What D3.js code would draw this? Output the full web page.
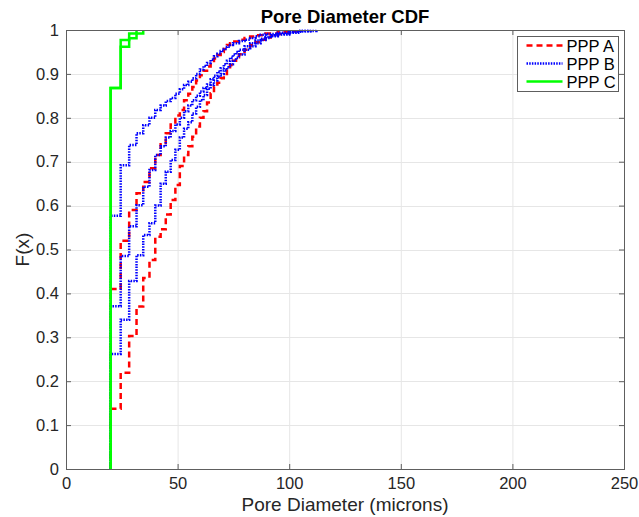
<!DOCTYPE html>
<html>
<head>
<meta charset="utf-8">
<script src="https://cdn.jsdelivr.net/npm/d3@7"></script>
<style>
  html, body { margin: 0; padding: 0; background: #fff; }
  svg { display: block; font-family: "Liberation Sans", Helvetica, Arial, sans-serif; }
</style>
</head>
<body>
<svg id="chart" width="639" height="517"></svg>
<script>
// ECDF steps: [diameter (microns), F(x)]
var pppA1 = [[20,0],[20,.41],[24.5,.52],[28.3,.59],[31.6,.628],[34.6,.654],[37.4,.685],[40,.715],[42.4,.74],[44.7,.765],[46.9,.785],[49,.805],[51,.818],[52.9,.84],[54.8,.855],[56.6,.87],[58.3,.885],[60,.897],[61.6,.907],[63.2,.917],[64.8,.925],[66.3,.935],[67.8,.943],[69.3,.95],[70.7,.957],[72.1,.966],[73.5,.97],[74.8,.974],[77.5,.978],[80,.982],[82.5,.985],[84.9,.988],[89.4,.992],[94.9,.995],[100,1]];
var pppA2 = [[20,0],[20,.137],[24.5,.219],[28.3,.303],[31.6,.37],[34.6,.435],[37.4,.476],[40,.529],[42.4,.546],[44.7,.58],[46.9,.613],[49,.647],[51,.69],[52.9,.715],[54.8,.735],[56.6,.757],[58.3,.78],[60,.8],[61.6,.815],[63.2,.835],[64.8,.856],[66.3,.87],[67.8,.88],[69.3,.89],[70.7,.9],[72.1,.91],[73.5,.92],[74.8,.93],[76.2,.938],[77.5,.945],[80,.955],[82.5,.965],[84.9,.972],[87.2,.978],[89.4,.983],[91.7,.987],[94.9,.991],[98,.995],[100,.997],[104.9,1]];

var pppB1 = [[20,0],[20,.577],[24.5,.692],[28.3,.738],[31.6,.765],[34.6,.783],[37.4,.8],[40,.818],[42.4,.828],[44.7,.838],[46.9,.845],[49,.855],[51,.865],[52.9,.875],[54.8,.882],[56.6,.89],[58.3,.9],[60,.91],[61.6,.918],[63.2,.925],[64.8,.932],[66.3,.94],[67.8,.946],[69.3,.952],[70.7,.957],[72.1,.962],[73.5,.966],[74.8,.97],[77.5,.975],[80,.978],[82.5,.982],[84.9,.986],[87.2,.989],[89.4,.991],[94.9,.994],[100,.996],[104.9,.998],[112.2,1]];
var pppB2 = [[20,0],[20,.371],[24.5,.485],[28.3,.553],[31.6,.601],[34.6,.643],[37.4,.681],[40,.715],[42.4,.735],[44.7,.755],[46.9,.77],[49,.785],[51,.8],[52.9,.815],[54.8,.828],[56.6,.84],[58.3,.85],[60,.86],[61.6,.868],[63.2,.876],[64.8,.888],[66.3,.896],[67.8,.905],[69.3,.913],[70.7,.922],[72.1,.93],[73.5,.937],[74.8,.944],[76.2,.95],[77.5,.955],[80,.963],[82.5,.97],[84.9,.976],[87.2,.98],[89.4,.984],[91.7,.988],[94.9,.991],[100,.995],[104.9,.998],[109.5,1]];
var pppB3 = [[20,0],[20,.262],[24.5,.34],[28.3,.428],[31.6,.487],[34.6,.533],[37.4,.56],[40,.6],[42.4,.65],[44.7,.677],[46.9,.704],[49,.727],[51,.755],[52.9,.775],[54.8,.79],[56.6,.81],[58.3,.825],[60,.84],[61.6,.852],[63.2,.866],[64.8,.875],[66.3,.885],[67.8,.893],[69.3,.9],[70.7,.908],[72.1,.915],[73.5,.922],[74.8,.93],[76.2,.937],[77.5,.944],[80,.955],[82.5,.963],[84.9,.97],[87.2,.977],[89.4,.982],[91.7,.986],[94.9,.99],[100,.994],[104.9,.997],[109.5,1]];

var pppC1 = [[20,0],[20,.868],[24.5,.977],[28.3,.992],[31.6,1]];
var pppC2 = [[20,0],[20,.868],[24.5,.962],[28.3,.981],[31.6,.992],[34.6,1]];

var seriesNames = ["PPP A", "PPP B", "PPP C"];
var xTicks = [0, 50, 100, 150, 200, 250];
var yTicks = [0, 0.1, 0.2, 0.3, 0.4, 0.5, 0.6, 0.7, 0.8, 0.9, 1];

var styles = {
  "PPP A": { color: "#ff0000", width: 2.5, dash: "6,4" },
  "PPP B": { color: "#0000ff", width: 2.5, dash: "1.5,1.2" },
  "PPP C": { color: "#00ff00", width: 2.5, dash: null }
};

var curves = [
  { name: "PPP A", data: pppA1 },
  { name: "PPP A", data: pppA2 },
  { name: "PPP B", data: pppB1 },
  { name: "PPP B", data: pppB2 },
  { name: "PPP B", data: pppB3 },
  { name: "PPP C", data: pppC1 },
  { name: "PPP C", data: pppC2 }
];

var svg = d3.select("#chart");
var margin = { top: 30, right: 15, bottom: 48, left: 66 };
var width = 639 - margin.left - margin.right;
var height = 517 - margin.top - margin.bottom;
var axisColor = "#5e5e5e";
var tickFont = "16.5px";

var g = svg.append("g")
  .attr("transform", "translate(" + margin.left + "," + margin.top + ")");

var x = d3.scaleLinear().domain([0, 250]).range([0, width]);
var y = d3.scaleLinear().domain([0, 1]).range([height, 0]);

// grid
g.append("g")
  .selectAll("line.gx")
  .data(xTicks.slice(1, -1))
  .enter().append("line")
  .attr("x1", function(d) { return x(d) + 0.5; })
  .attr("x2", function(d) { return x(d) + 0.5; })
  .attr("y1", 0)
  .attr("y2", height)
  .attr("stroke", "#e6e6e6");

g.append("g")
  .selectAll("line.gy")
  .data(yTicks.slice(1, -1))
  .enter().append("line")
  .attr("x1", 0)
  .attr("x2", width)
  .attr("y1", function(d) { return Math.round(y(d)) + 0.5; })
  .attr("y2", function(d) { return Math.round(y(d)) + 0.5; })
  .attr("stroke", "#e6e6e6");

// axes (ticks inward on all four sides)
function styleAxis(sel) {
  sel.select(".domain").remove();
  sel.selectAll(".tick line").attr("stroke", axisColor);
  sel.selectAll(".tick text")
    .attr("fill", "#262626")
    .style("font-size", tickFont)
    .style("font-family", "'Liberation Sans', Helvetica, Arial, sans-serif");
}

g.append("g")
  .attr("transform", "translate(0," + height + ")")
  .call(d3.axisBottom(x).tickValues(xTicks).tickSize(-5).tickPadding(8).tickFormat(d3.format("d")))
  .call(styleAxis);

g.append("g")
  .call(d3.axisTop(x).tickValues(xTicks).tickSize(-5).tickFormat(""))
  .call(styleAxis);

g.append("g")
  .call(d3.axisLeft(y).tickValues(yTicks).tickSize(-5).tickPadding(7).tickFormat(function(d) { return d3.format("")(+d.toFixed(1)); }))
  .call(styleAxis);

g.append("g")
  .attr("transform", "translate(" + width + ",0)")
  .call(d3.axisRight(y).tickValues(yTicks).tickSize(-5).tickFormat(""))
  .call(styleAxis);

// curves
var line = d3.line()
  .curve(d3.curveStepAfter)
  .x(function(d) { return x(d[0]); })
  .y(function(d) { return y(d[1]); });

g.append("g")
  .selectAll("path.cdf")
  .data(curves)
  .enter().append("path")
  .attr("class", "cdf")
  .attr("d", function(c) { return line(c.data); })
  .attr("fill", "none")
  .attr("stroke", function(c) { return styles[c.name].color; })
  .attr("stroke-width", function(c) { return styles[c.name].width; })
  .attr("stroke-dasharray", function(c) { return styles[c.name].dash; });

// box
g.append("rect")
  .attr("x", 0.5)
  .attr("y", 0.5)
  .attr("width", width)
  .attr("height", height)
  .attr("fill", "none")
  .attr("stroke", axisColor);

// title and labels
svg.append("text")
  .attr("x", margin.left + width / 2)
  .attr("y", 23)
  .attr("text-anchor", "middle")
  .attr("fill", "#000")
  .style("font-size", "18.5px")
  .style("font-weight", "bold")
  .text("Pore Diameter CDF");

svg.append("text")
  .attr("x", margin.left + width / 2)
  .attr("y", 511)
  .attr("text-anchor", "middle")
  .attr("fill", "#262626")
  .style("font-size", "19px")
  .text("Pore Diameter (microns)");

svg.append("text")
  .attr("transform", "translate(29," + (margin.top + height / 2) + ") rotate(-90)")
  .attr("text-anchor", "middle")
  .attr("fill", "#262626")
  .style("font-size", "19px")
  .text("F(x)");

// legend
var legend = svg.append("g").attr("transform", "translate(517.5,36.5)");
legend.append("rect")
  .attr("width", 101)
  .attr("height", 55)
  .attr("fill", "#fff")
  .attr("stroke", axisColor);

seriesNames.forEach(function(name, i) {
  var ly = 9 + i * 18;
  var st = styles[name];
  legend.append("line")
    .attr("x1", 9)
    .attr("x2", 45)
    .attr("y1", ly)
    .attr("y2", ly)
    .attr("stroke", st.color)
    .attr("stroke-width", st.width)
    .attr("stroke-dasharray", st.dash);
  legend.append("text")
    .attr("x", 49)
    .attr("y", ly + 6)
    .attr("fill", "#000")
    .style("font-size", "16.5px")
    .text(name);
});
</script>
</body>
</html>
